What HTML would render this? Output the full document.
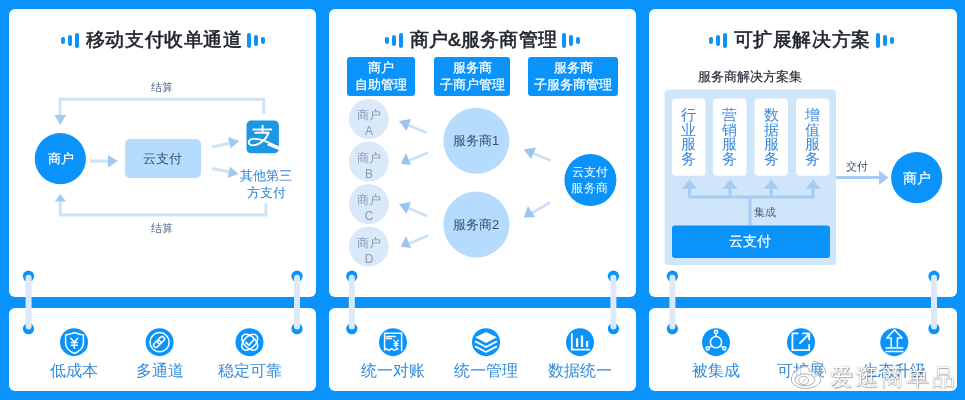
<!DOCTYPE html>
<html><head><meta charset="utf-8">
<style>
*{margin:0;padding:0;box-sizing:border-box}
html,body{width:965px;height:400px;overflow:hidden}
body{background:#0a94fb;font-family:"Liberation Sans",sans-serif;position:relative}
.card{position:absolute;background:#fff;border-radius:6px}
.t{position:absolute;white-space:nowrap;line-height:1;will-change:transform}
.title{will-change:transform;position:absolute;top:29.2px;height:22px;display:flex;align-items:center;justify-content:center;font-size:19.2px;letter-spacing:0.6px;font-weight:400;color:#1f2329;-webkit-text-stroke:0.6px #1f2329}
.deco{display:flex;align-items:center;gap:3px;position:relative;top:0.3px}
.deco i{display:block;width:4px;border-radius:2px;background:#0a94fb}
.svg{position:absolute;left:0;top:0}
.ctr{text-align:center}
</style></head><body>

<!-- top cards -->
<div class="card" style="left:9px;top:9px;width:307px;height:288px"></div>
<div class="card" style="left:329px;top:9px;width:307px;height:288px"></div>
<div class="card" style="left:649px;top:9px;width:308px;height:288px"></div>
<!-- bottom cards -->
<div class="card" style="left:9px;top:308px;width:307px;height:83.4px"></div>
<div class="card" style="left:329px;top:308px;width:307px;height:83.4px"></div>
<div class="card" style="left:649px;top:308px;width:308px;height:83.4px"></div>

<!-- titles -->
<div class="title" style="left:9px;width:307px;padding-left:0.5px">
  <div class="deco" style="margin-right:7px"><i style="height:7.5px"></i><i style="height:11px"></i><i style="height:15px"></i></div>
  <span>移动支付收单通道</span>
  <div class="deco" style="margin-left:4px"><i style="height:15px"></i><i style="height:11px"></i><i style="height:7.5px"></i></div>
</div>
<div class="title" style="left:329px;width:307px;padding-left:0px;letter-spacing:0.2px">
  <div class="deco" style="margin-right:7px"><i style="height:7.5px"></i><i style="height:11px"></i><i style="height:15px"></i></div>
  <span>商户&amp;服务商管理</span>
  <div class="deco" style="margin-left:5.5px"><i style="height:15px"></i><i style="height:11px"></i><i style="height:7.5px"></i></div>
</div>
<div class="title" style="left:649px;width:308px;padding-right:3px">
  <div class="deco" style="margin-right:7px"><i style="height:7.5px"></i><i style="height:11px"></i><i style="height:15px"></i></div>
  <span>可扩展解决方案</span>
  <div class="deco" style="margin-left:5.5px"><i style="height:15px"></i><i style="height:11px"></i><i style="height:7.5px"></i></div>
</div>

<svg class="svg" width="965" height="400" viewBox="0 0 965 400">
  <!-- ========== card1 ========== -->
  <g fill="none" stroke="#cfe3f7" stroke-width="3">
    <polyline points="60,115 60,99.3 263.7,99.3 263.7,114"/>
    <polyline points="266,203.3 266,215 60.3,215 60.3,201.5"/>
    <line x1="90" y1="161" x2="109" y2="161"/>
    <line x1="212" y1="147" x2="231" y2="143"/>
    <line x1="212" y1="168.5" x2="230" y2="172"/>
  </g>
  <g fill="#a3c9ef">
    <polygon points="54.5,115 66,115 60.3,125"/>
    <polygon points="54.8,201.6 66,201.6 60.3,194"/>
    <polygon points="108,155 108,167.5 118,161"/>
    <polygon points="228,137 230.5,148.5 239.5,141"/>
    <polygon points="230,166.5 227.5,178 238.5,174"/>
  </g>
  <circle cx="60.3" cy="158.7" r="25.6" fill="#0a94fb"/>
  <rect x="125" y="139" width="76" height="39" rx="5" fill="#b5dcfc"/>
  <!-- alipay -->
  <rect x="246.5" y="120.6" width="32.4" height="32.7" rx="4.5" fill="#1b97e6"/>
  <g fill="none" stroke="#fff" stroke-width="1.9" stroke-linecap="butt" stroke-linejoin="round">
    <path d="M252.4,129.5 H272"/>
    <path d="M262.6,125 V133"/>
    <path d="M254.5,132.8 H268.6 C266.8,137.5 262,142.8 256,144.8 C250.5,146.5 247.5,143.5 249.3,140.6 C251,138.3 257,138.2 264,140.6 C270,142.8 274.5,145.5 278.9,147.4"/>
  </g>
  <polygon points="268,143.2 278.9,146 278.9,150 267,145.3" fill="#fff"/>
  <!-- ========== card2 ========== -->
  <rect x="347" y="57" width="68" height="39" rx="3" fill="#0a94fb"/>
  <rect x="434" y="57" width="76" height="39" rx="3" fill="#0a94fb"/>
  <rect x="528" y="57" width="90" height="39" rx="3" fill="#0a94fb"/>
  <g fill="#d9e9f9">
    <circle cx="368.8" cy="119" r="20"/>
    <circle cx="368.8" cy="161.5" r="20"/>
    <circle cx="368.8" cy="204" r="20"/>
    <circle cx="368.8" cy="246.5" r="20"/>
  </g>
  <g fill="#b5dcfc">
    <circle cx="476.4" cy="140.8" r="33"/>
    <circle cx="476.4" cy="224.5" r="33"/>
  </g>
  <circle cx="590.4" cy="180" r="26" fill="#0a94fb"/>
  <g fill="none" stroke="#cbe1f7" stroke-width="2.7">
    <line x1="427" y1="133" x2="408" y2="125"/>
    <line x1="428.3" y1="152.4" x2="409" y2="160.5"/>
    <line x1="427" y1="216" x2="408" y2="208"/>
    <line x1="428.3" y1="235.4" x2="409" y2="243.5"/>
    <line x1="551" y1="160.5" x2="532" y2="153"/>
    <line x1="550" y1="202.5" x2="532" y2="213"/>
  </g>
  <g fill="#9cc4ee">
    <polygon points="399,121 411,119 406.5,131"/>
    <polygon points="400.8,163.7 406,153 411,165"/>
    <polygon points="399,204 411,202 406.5,214"/>
    <polygon points="400.8,246.7 406,236 411,248"/>
    <polygon points="523.8,149.5 536,147.5 531,159"/>
    <polygon points="523.8,217.5 528,206 535,217"/>
  </g>

  <!-- ========== card3 ========== -->
  <rect x="664.5" y="89.5" width="171.5" height="175.5" rx="4" fill="#cfe5fa"/>
  <g fill="#fff">
    <rect x="672" y="98.5" width="33.5" height="77.2" rx="4"/>
    <rect x="713" y="98.5" width="33.5" height="77.2" rx="4"/>
    <rect x="754.5" y="98.5" width="33.5" height="77.2" rx="4"/>
    <rect x="796" y="98.5" width="33.5" height="77.2" rx="4"/>
  </g>
  <g fill="none" stroke="#a6cdf1" stroke-width="3">
    <polyline points="689.5,188 689.5,197 813,197 813,188"/>
    <line x1="730" y1="188" x2="730" y2="197"/>
    <line x1="771.2" y1="188" x2="771.2" y2="197"/>
    <line x1="750" y1="197" x2="750" y2="226"/>
    <line x1="836" y1="177.6" x2="880" y2="177.6"/>
  </g>
  <g fill="#a6cdf1">
    <polygon points="682,188.8 697,188.8 689.5,179.5"/>
    <polygon points="722.5,188.8 737.5,188.8 730,179.5"/>
    <polygon points="763.7,188.8 778.7,188.8 771.2,179.5"/>
    <polygon points="805.5,188.8 820.5,188.8 813,179.5"/>
    <polygon points="879,170.4 879,185 888.5,177.6"/>
  </g>
  <rect x="672" y="225.5" width="158" height="32.5" rx="3" fill="#0a94fb"/>
  <circle cx="916.7" cy="177.7" r="25.6" fill="#0a94fb"/>

  <!-- ========== connectors ========== -->
  <g fill="#0a94fb">
    <circle cx="28.5" cy="276.2" r="5.6"/><circle cx="28.5" cy="328.7" r="5.6"/>
    <circle cx="297" cy="276.2" r="5.6"/><circle cx="297" cy="328.7" r="5.6"/>
    <circle cx="351.8" cy="276.2" r="5.6"/><circle cx="351.8" cy="328.7" r="5.6"/>
    <circle cx="613.4" cy="276.2" r="5.6"/><circle cx="613.4" cy="328.7" r="5.6"/>
    <circle cx="672.4" cy="276.2" r="5.6"/><circle cx="672.4" cy="328.7" r="5.6"/>
    <circle cx="934" cy="276.2" r="5.6"/><circle cx="934" cy="328.7" r="5.6"/>
  </g>
  <g stroke="#dde9f8" stroke-width="6" stroke-linecap="round">
    <line x1="28.6" y1="277.7" x2="28.6" y2="326.6"/>
    <line x1="297" y1="277.7" x2="297" y2="326.6"/>
    <line x1="351.8" y1="277.7" x2="351.8" y2="326.6"/>
    <line x1="613.4" y1="277.7" x2="613.4" y2="326.6"/>
    <line x1="672.4" y1="277.7" x2="672.4" y2="326.6"/>
    <line x1="934" y1="277.7" x2="934" y2="326.6"/>
  </g>

  <!-- ========== bottom icons ========== -->
  <g fill="#0a94fb">
    <circle cx="74" cy="342.2" r="14"/>
    <circle cx="159.6" cy="342.2" r="14"/>
    <circle cx="249.5" cy="342.2" r="14"/>
    <circle cx="393" cy="342.2" r="14"/>
    <circle cx="486" cy="342.2" r="14"/>
    <circle cx="580" cy="342.2" r="14"/>
    <circle cx="716" cy="342.2" r="14"/>
    <circle cx="801" cy="342.2" r="14"/>
    <circle cx="894.3" cy="342.2" r="14"/>
  </g>
  <g fill="none" stroke="#fff" stroke-width="1.5" stroke-linecap="round" stroke-linejoin="round">
    <!-- shield + yen -->
    <path d="M65.6,335 C70,334.5 72,333.5 74.5,332.6 C77,333.5 79,334.5 83.4,335 V343 C83.4,348.5 78,352 74.5,353.5 C71,352 65.6,348.5 65.6,343 Z"/>
    <path d="M70.8,338.3 L74.3,342 L77.8,338.3 M74.3,342 V348.3 M71.3,342.5 H77.3 M71.3,345.2 H77.3"/>
    <!-- link -->
    <circle cx="159.6" cy="342.2" r="9.6"/>
    <rect x="-4" y="-2.3" width="8" height="4.6" rx="2.3" transform="translate(157.1 343.9) rotate(-45)"/>
    <rect x="-4" y="-2.3" width="8" height="4.6" rx="2.3" transform="translate(160.9 340.1) rotate(-45)"/>
    <!-- stable -->
    <ellipse cx="249.7" cy="342.2" rx="9.6" ry="5.8" transform="rotate(45 249.7 342.2)"/>
    <ellipse cx="249.7" cy="342.2" rx="9.6" ry="5.8" transform="rotate(-45 249.7 342.2)"/>
    <path d="M246,342.5 L248.8,345.3 L253.6,340" stroke-width="1.8"/>
    <!-- receipt -->
    <path d="M384.6,350 V333.2 H401.6 V350.6"/>
    <path d="M384.6,349.5 Q386,348 387.4,349.5 T390.2,349.5 T393,349.5 T395.8,349.5 T397.8,349.2"/>
    <path d="M386.4,336.4 H395.4 M386.4,338.6 H391.4"/>
    <path d="M393.6,340.2 L396,342.8 L398.4,340.2 M396,342.8 V347.2 M394,343.6 H398 M394,345.4 H398" stroke-width="1.2"/>
    <!-- layers -->
    <path d="M475.6,346.6 L486,352 L496.4,346.6 M475.6,341.6 L486,347 L496.4,341.6" stroke-width="1.8"/>
    <!-- bar chart -->
    <path d="M571.8,334 V349.6 H589.2" stroke-width="1.8"/>
    <path d="M577.1,338.2 V347 M582,335.4 V347 M587.1,341 V347" stroke-width="2.2" stroke-linecap="butt"/>
    <!-- integrate -->
    <circle cx="716" cy="342.2" r="5.6"/>
    <circle cx="716" cy="331.9" r="1.6"/>
    <circle cx="707.7" cy="348.3" r="1.6"/>
    <circle cx="724.3" cy="348.3" r="1.6"/>
    <path d="M716,333.5 V336.6 M709.1,347.5 L711.3,346 M722.9,347.5 L720.7,346"/>
    <!-- expand -->
    <path d="M797.8,333.4 H792.4 V350.2 H809.2 V344.8" stroke-width="1.8"/>
    <path d="M800,343 L809,334 M803,333.4 H809.2 V339.6" stroke-width="1.8"/>
    <!-- upgrade -->
    <path d="M891.2,346.4 V338 H886.8 L894.4,329.8 L902.2,338 H897.4 V346.4"/>
    <path d="M886,348 H902.8 M886,351.4 H902.8" stroke-width="1.5"/>
  </g>
  <polygon points="475.2,337.2 486,332 496.8,337.2 486,343" fill="#fff"/>
</svg>

<!-- ========== card1 text ========== -->
<div class="t" style="left:151px;top:81.5px;font-size:11px;color:#56698a">结算</div>
<div class="t" style="left:151px;top:222.5px;font-size:11px;color:#56698a">结算</div>
<div class="t" style="left:48px;top:152px;font-size:13px;color:#fff;-webkit-text-stroke:0.2px #fff">商户</div>
<div class="t" style="left:143px;top:152px;font-size:13px;color:#3b506e">云支付</div>
<div class="t ctr" style="left:235px;top:167.6px;width:62px;font-size:13px;line-height:16.6px;color:#2b84d9">其他第三<br>方支付</div>

<!-- ========== card2 text ========== -->
<div class="t ctr" style="left:347px;top:60.4px;width:68px;font-size:13px;line-height:16.5px;color:#fff;-webkit-text-stroke:0.25px #fff">商户<br>自助管理</div>
<div class="t ctr" style="left:434px;top:60.4px;width:76px;font-size:13px;line-height:16.5px;color:#fff;-webkit-text-stroke:0.25px #fff">服务商<br>子商户管理</div>
<div class="t ctr" style="left:528px;top:60.4px;width:90px;font-size:13px;line-height:16.5px;color:#fff;-webkit-text-stroke:0.25px #fff">服务商<br>子服务商管理</div>
<div class="t ctr" style="left:348.8px;top:107px;width:40px;font-size:12px;line-height:16px;color:#8a99ae">商户<br>A</div>
<div class="t ctr" style="left:348.8px;top:149.5px;width:40px;font-size:12px;line-height:16px;color:#8a99ae">商户<br>B</div>
<div class="t ctr" style="left:348.8px;top:192px;width:40px;font-size:12px;line-height:16px;color:#8a99ae">商户<br>C</div>
<div class="t ctr" style="left:348.8px;top:234.5px;width:40px;font-size:12px;line-height:16px;color:#8a99ae">商户<br>D</div>
<div class="t ctr" style="left:443.4px;top:134px;width:66px;font-size:13px;color:#3b506e">服务商1</div>
<div class="t ctr" style="left:443.4px;top:218px;width:66px;font-size:13px;color:#3b506e">服务商2</div>
<div class="t ctr" style="left:564.4px;top:165px;width:52px;font-size:12.4px;line-height:15.7px;letter-spacing:0.4px;text-indent:0.4px;color:#fff">云支付<br>服务商</div>

<!-- ========== card3 text ========== -->
<div class="t" style="left:698px;top:70px;font-size:13px;color:#2a2f38;-webkit-text-stroke:0.2px #2a2f38">服务商解决方案集</div>
<div class="t ctr" style="left:672px;top:107.5px;width:33.5px;font-size:14.6px;line-height:14.6px;color:#3a89da">行<br>业<br>服<br>务</div>
<div class="t ctr" style="left:713px;top:107.5px;width:33.5px;font-size:14.6px;line-height:14.6px;color:#3a89da">营<br>销<br>服<br>务</div>
<div class="t ctr" style="left:754.5px;top:107.5px;width:33.5px;font-size:14.6px;line-height:14.6px;color:#3a89da">数<br>据<br>服<br>务</div>
<div class="t ctr" style="left:796px;top:107.5px;width:33.5px;font-size:14.6px;line-height:14.6px;color:#3a89da">增<br>值<br>服<br>务</div>
<div class="t" style="left:754px;top:206.8px;font-size:11px;color:#4a5f7e">集成</div>
<div class="t ctr" style="left:671px;top:234.3px;width:158px;font-size:14.4px;color:#fff;-webkit-text-stroke:0.2px #fff">云支付</div>
<div class="t" style="left:846px;top:160.7px;font-size:11px;color:#3d4f66">交付</div>
<div class="t" style="left:903px;top:171px;font-size:14px;color:#fff;-webkit-text-stroke:0.2px #fff">商户</div>

<!-- ========== bottom labels ========== -->
<div class="t ctr" style="left:34px;top:362.5px;width:80px;font-size:16px;color:#338ade">低成本</div>
<div class="t ctr" style="left:119.6px;top:362.5px;width:80px;font-size:16px;color:#338ade">多通道</div>
<div class="t ctr" style="left:209.5px;top:362.5px;width:80px;font-size:16px;color:#338ade">稳定可靠</div>
<div class="t ctr" style="left:353px;top:362.5px;width:80px;font-size:16px;color:#338ade">统一对账</div>
<div class="t ctr" style="left:446px;top:362.5px;width:80px;font-size:16px;color:#338ade">统一管理</div>
<div class="t ctr" style="left:540px;top:362.5px;width:80px;font-size:16px;color:#338ade">数据统一</div>
<div class="t ctr" style="left:676px;top:362.5px;width:80px;font-size:16px;color:#338ade">被集成</div>
<div class="t ctr" style="left:761px;top:362.5px;width:80px;font-size:16px;color:#338ade">可扩展</div>
<div class="t ctr" style="left:854px;top:362.5px;width:80px;font-size:16px;color:#338ade">生态升级</div>


<!-- watermark -->
<svg class="svg" width="965" height="400" viewBox="0 0 965 400" style="z-index:5">
  <g fill="#fff" fill-opacity="0.7" stroke="#8c8c8c" stroke-opacity="0.75" stroke-width="0.9">
    <path d="M806,388.4 C797,388.4 791.4,384.5 791.4,379.5 C791.4,374.5 796,369 801.5,367.2 C806.5,365.6 810,367.5 809,371.5 C812.5,370.5 816,371.5 815.5,374 C819,375 820.7,376.5 820.7,379.5 C820.7,384.5 814,388.4 806,388.4 Z"/>
    <ellipse cx="805" cy="379.8" rx="9.9" ry="6"/>
    <ellipse cx="803.6" cy="380.4" rx="4.9" ry="4.1"/>
    <path d="M802.5,382 L806,378.6" fill="none"/>
    <path d="M813,361.4 C820,361.5 826,367 825.6,373.6" fill="none"/>
    <path d="M814,364.5 C818.5,364.5 822,368 822,371.8" fill="none"/>
  </g>
</svg>
<div class="t" style="left:830px;top:364px;font-size:23px;line-height:26px;letter-spacing:2.4px;color:#fff;z-index:6;text-shadow:0 0 1px rgba(0,0,0,0.55),0.5px 0.5px 1px rgba(0,0,0,0.3)">爱逛商单品</div>

</body></html>
